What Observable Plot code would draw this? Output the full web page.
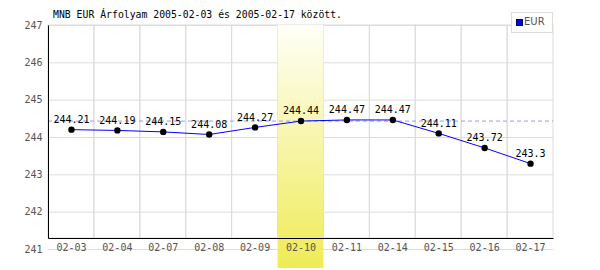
<!DOCTYPE html>
<html>
<head>
<meta charset="utf-8">
<script src="https://cdn.jsdelivr.net/npm/d3@7"></script>
<script src="https://cdn.jsdelivr.net/npm/@observablehq/plot@0.6"></script>
<style>
  body { margin: 0; background: white; }
  #wrap { position: relative; width: 600px; height: 270px; }
  #title { position: absolute; left: 53px; top: 9px; font: 9.8px "DejaVu Sans Mono", monospace; color: #000; white-space: nowrap; }
  #legend { position: absolute; left: 511px; top: 12px; width: 40px; height: 19px; border: 1px solid #dcdcdc; background: white; box-sizing: content-box; }
  #legend .sw { position: absolute; left: 4px; top: 6px; width: 5px; height: 5px; background: #0000ff; border: 1px solid #000066; }
  #legend .lb { position: absolute; left: 12px; top: 3px; font: 10px "DejaVu Sans", sans-serif; color: #555; }
</style>
</head>
<body>
<div id="wrap">
  <div id="chart"></div>
  <div id="title">MNB EUR Árfolyam 2005-02-03 és 2005-02-17 között.</div>
  <div id="legend"><div class="sw"></div><div class="lb">EUR</div></div>
</div>
<script>
const categories = ["02-03","02-04","02-07","02-08","02-09","02-10","02-11","02-14","02-15","02-16","02-17"];
const rates = [244.21,244.19,244.15,244.08,244.27,244.44,244.47,244.47,244.11,243.72,243.3];
const yTicks = [241,242,243,244,245,246,247];
const highlightDay = "02-10";
const refRate = 244.44;

const data = categories.map((c, i) => ({day: c, rate: rates[i]}));

const W = 600, H = 270, mL = 48, mR = 47, mT = 25, mB = 32;
const fw = W - mL - mR, fh = H - mT - mB;

const svg = Plot.plot({
  width: W, height: H,
  marginLeft: mL, marginRight: mR, marginTop: mT, marginBottom: mB,
  x: {type: "band", domain: categories, padding: 0, round: false},
  y: {domain: [241, 247], range: [249, 25]},
  style: {fontFamily: "DejaVu Sans Mono, monospace", fontSize: "10px", background: "white", overflow: "visible"},
  marks: [
    Plot.gridY(yTicks, {stroke: "#dcdcdc", strokeOpacity: 1}),
    Plot.cell(categories, {x: d => d, fill: "none", stroke: "#dcdcdc"}),
    Plot.cell([highlightDay], {x: d => d, fill: "url(#hl)", insetBottom: -30}),
    Plot.ruleY([refRate], {stroke: "#9999ff", strokeDasharray: "4,3"}),
    Plot.frame({stroke: "black", strokeDasharray: `0 ${fw + fh} ${fw + fh}`}),
    Plot.axisX({tickSize: 0, tickPadding: 5, fill: "#555", label: null}),
    Plot.axisY(yTicks, {tickSize: 0, tickPadding: 6, fill: "#555", label: null}),
    Plot.line(data, {x: "day", y: "rate", stroke: "#0000ff", strokeWidth: 1}),
    Plot.dot(data, {x: "day", y: "rate", r: 3.2, fill: "black"}),
    Plot.text(data, {x: "day", y: "rate", text: d => String(d.rate), dy: -10, fill: "black"})
  ]
});

d3.select(svg).insert("defs", ":first-child").html(
  '<linearGradient id="hl" x1="0" y1="0" x2="0" y2="1">' +
  '<stop offset="0" stop-color="#fffff8"/>' +
  '<stop offset="1" stop-color="#efeb55"/>' +
  '</linearGradient>'
);

document.getElementById("chart").appendChild(svg);
</script>
</body>
</html>
